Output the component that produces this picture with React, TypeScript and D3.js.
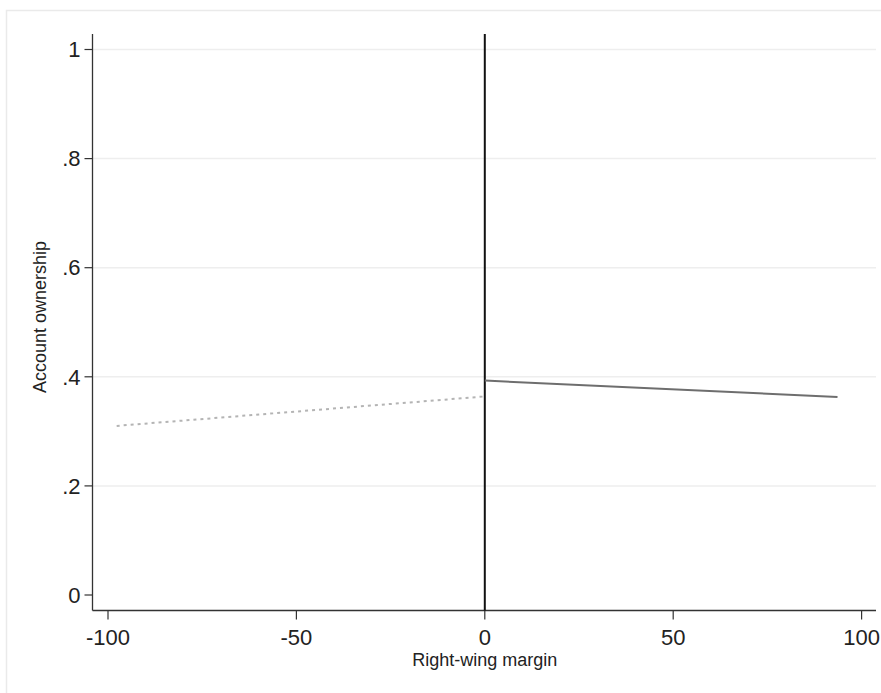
import React from "react";
import * as d3 from "d3";

const xTicks = [-100, -50, 0, 50, 100];
const yTicks = [0, 0.2, 0.4, 0.6, 0.8, 1];
const yTickLabels = ["0", ".2", ".4", ".6", ".8", "1"];
const leftX = [-97.7, 0];
const leftY = [0.31, 0.364];
const rightX = [0, 93.6];
const rightY = [0.393, 0.363];

const W = 881, H = 693;

export default function App() {
  const x = d3.scaleLinear().domain([-100, 100]).range([108, 861.6]);
  const y = d3.scaleLinear().domain([0, 1]).range([595, 49.5]);
  const line = d3.line<[number, number]>().x(d => x(d[0])).y(d => y(d[1]));
  const leftPts = leftX.map((v, i) => [v, leftY[i]] as [number, number]);
  const rightPts = rightX.map((v, i) => [v, rightY[i]] as [number, number]);
  const font = "'Liberation Sans', Arial, sans-serif";
  const plotL = 92.5, plotR = 876, axisY = 610.5, topY = 34;
  return (
    <svg width={W} height={H} style={{ position: "absolute", left: 0, top: 0 }}>
      <rect x={0} y={0} width={W} height={H} fill="#fff" />
      <rect x={6.5} y={10.5} width={W} height={H} fill="none" stroke="#eaeaea" strokeWidth={1.5} />
      {yTicks.map((t, i) => (
        <g key={i}>
          {t > 0 && <line x1={plotL} x2={plotR} y1={y(t)} y2={y(t)} stroke="#eeeeee" strokeWidth={1.5} />}
          <line x1={plotL - 8} x2={plotL} y1={y(t)} y2={y(t)} stroke="#333" strokeWidth={1.2} />
          <text x={plotL - 12} y={y(t)} dy="0.35em" textAnchor="end" fontFamily={font} fontSize={22} fill="#222">{yTickLabels[i]}</text>
        </g>
      ))}
      {xTicks.map((t, i) => (
        <g key={i}>
          <line x1={x(t)} x2={x(t)} y1={axisY} y2={axisY + 9} stroke="#333" strokeWidth={1.2} />
          <text x={x(t)} y={axisY + 34} textAnchor="middle" fontFamily={font} fontSize={22} fill="#222">{t}</text>
        </g>
      ))}
      <line x1={plotL} x2={plotL} y1={topY} y2={axisY} stroke="#333" strokeWidth={1.3} />
      <line x1={plotL} x2={plotR} y1={axisY} y2={axisY} stroke="#333" strokeWidth={1.3} />
      <line x1={x(0)} x2={x(0)} y1={topY} y2={axisY} stroke="#111" strokeWidth={2} />
      <path d={line(leftPts) || ""} fill="none" stroke="#b4b4b4" strokeWidth={2} strokeDasharray="3 4" />
      <path d={line(rightPts) || ""} fill="none" stroke="#6e6e6e" strokeWidth={2} />
      <text x={x(0)} y={666} textAnchor="middle" fontFamily={font} fontSize={18} fill="#222">Right-wing margin</text>
      <text transform={`translate(46,317) rotate(-90)`} textAnchor="middle" fontFamily={font} fontSize={18} fill="#222">Account ownership</text>
    </svg>
  );
}
